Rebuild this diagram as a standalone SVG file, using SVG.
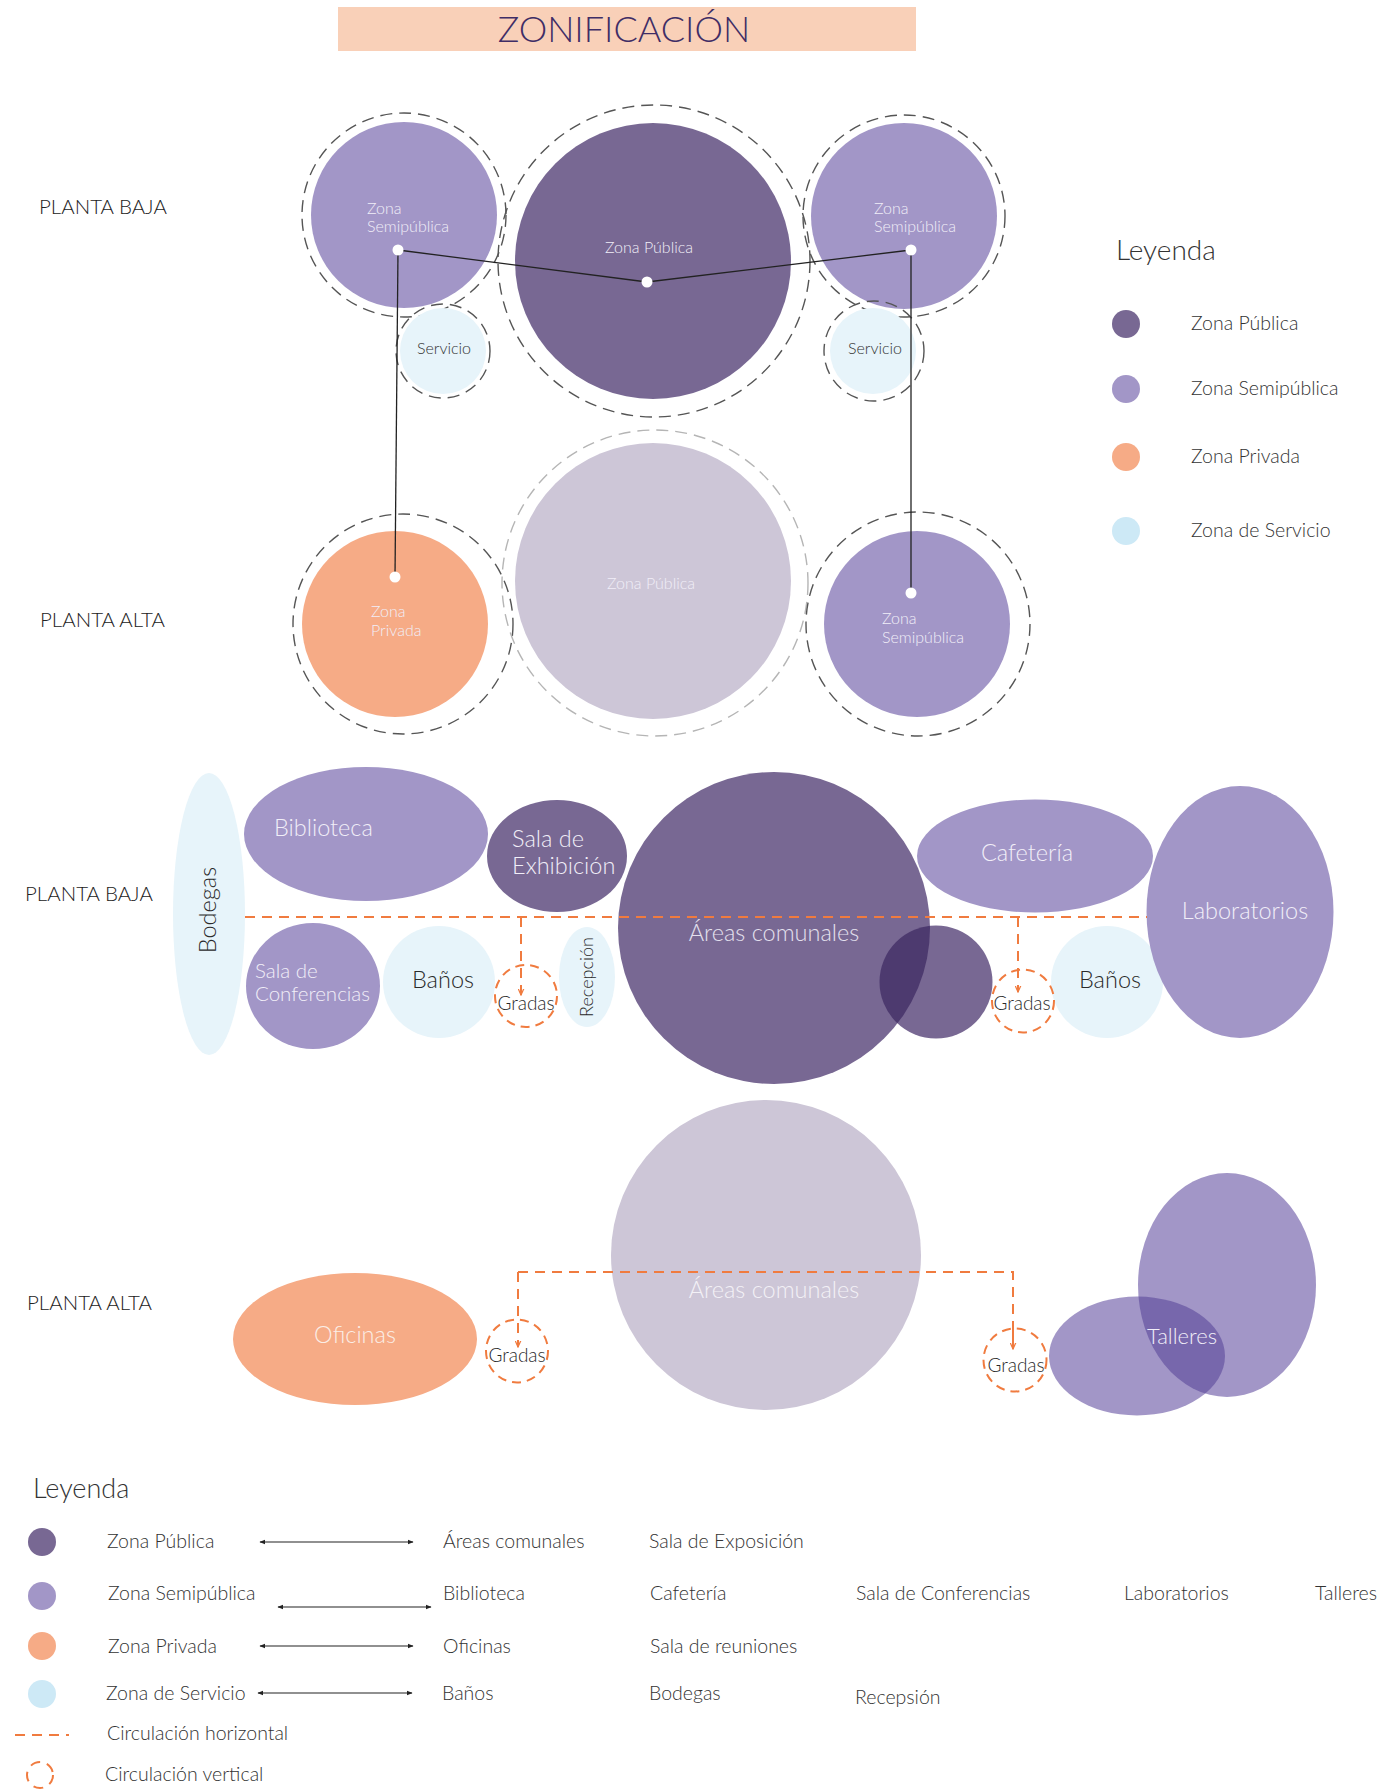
<svg xmlns="http://www.w3.org/2000/svg" width="1379" height="1791" viewBox="0 0 1379 1791">
<style>
text{font-family:Lato,"Liberation Sans","DejaVu Sans",sans-serif;font-weight:300}
.pub{fill:#786893}.semi{fill:#a296c7}.priv{fill:#f6ab86}.serv{fill:#e7f4fa}.pale{fill:#cdc6d7}
.ring{fill:none;stroke:#555;stroke-width:1.4;stroke-dasharray:12 7}
.ringl{fill:none;stroke:#b5b5b5;stroke-width:1.4;stroke-dasharray:12 7}
.grad{fill:none;stroke:#f07b3f;stroke-width:2;stroke-dasharray:9 6}
.circ{fill:none;stroke:#f07b3f;stroke-width:2;stroke-dasharray:10 7}
.link{fill:none;stroke:#222;stroke-width:1.3}
.dot{fill:#fff}
.lbl{font-size:20.5px;fill:#222}
.wt{fill:#f1eef8}
.wt15{font-size:16px;fill:#f1eef8}
.dk15{font-size:16px;fill:#333}
.big{font-size:23.5px}
.dk{fill:#2a2a2a}
.leg{font-size:19.5px;fill:#333}
.arr{stroke:#222;stroke-width:1.2;fill:none}
</style>
<defs>
<marker id="oa" viewBox="0 0 10 10" refX="9" refY="5" markerWidth="7" markerHeight="7" orient="auto" markerUnits="userSpaceOnUse"><path d="M0,1 L9,5 L0,9" fill="none" stroke="#f07b3f" stroke-width="1.8"/></marker>
<marker id="ba" viewBox="0 0 10 10" refX="9" refY="5" markerWidth="6" markerHeight="6" orient="auto-start-reverse" markerUnits="userSpaceOnUse"><path d="M0,1 L10,5 L0,9 z" fill="#222"/></marker>
<clipPath id="clipAreas"><circle cx="774" cy="928" r="156"/></clipPath>
<clipPath id="clipTall"><ellipse cx="1227" cy="1285" rx="89" ry="112"/></clipPath>
</defs>

<g id="title">
<rect x="338" y="7" width="578" height="44" fill="#f9d0b8"/>
<text x="624" y="42" text-anchor="middle" font-size="36" fill="#3f2d66">ZONIFICACIÓN</text>
</g>

<g id="row-labels">
<text class="lbl" x="39" y="214">PLANTA BAJA</text>
<text class="lbl" x="40" y="627">PLANTA ALTA</text>
<text class="lbl" x="25" y="901">PLANTA BAJA</text>
<text class="lbl" x="27" y="1310">PLANTA ALTA</text>
</g>

<!-- Top diagram: planta baja -->
<g id="pb-semi-left"><circle class="semi" cx="404" cy="215" r="93"/><circle class="ring" cx="404" cy="215" r="102"/>
<text class="wt15" x="367" y="214">Zona</text><text class="wt15" x="367" y="232">Semipública</text></g>
<g id="pb-publica"><circle class="pub" cx="653" cy="261" r="138"/><circle class="ring" cx="654" cy="261" r="156"/>
<text class="wt15" x="649" y="253" text-anchor="middle">Zona Pública</text></g>
<g id="pb-semi-right"><circle class="semi" cx="904" cy="216" r="93"/><circle class="ring" cx="904" cy="216" r="101"/>
<text class="wt15" x="874" y="214">Zona</text><text class="wt15" x="874" y="232">Semipública</text></g>
<g id="pb-serv-left"><circle class="serv" cx="443" cy="351" r="43"/><circle class="ring" cx="443" cy="351" r="47"/>
<text class="dk15" x="444" y="354" text-anchor="middle">Servicio</text></g>
<g id="pb-serv-right"><circle class="serv" cx="873" cy="351" r="43"/><circle class="ring" cx="874" cy="351" r="50"/>
<text class="dk15" x="875" y="354" text-anchor="middle">Servicio</text></g>

<!-- Top diagram: planta alta -->
<g id="pa-privada"><circle class="priv" cx="395" cy="624" r="93"/><circle class="ring" cx="403" cy="624" r="110"/>
<text class="wt15" x="371" y="617">Zona</text><text class="wt15" x="371" y="636">Privada</text></g>
<g id="pa-publica"><circle class="pale" cx="653" cy="581" r="138"/><circle class="ringl" cx="655" cy="583" r="153"/>
<text class="wt15" x="651" y="589" text-anchor="middle">Zona Pública</text></g>
<g id="pa-semi"><circle class="semi" cx="917" cy="624" r="93"/><circle class="ring" cx="918" cy="624" r="112"/>
<text class="wt15" x="882" y="624">Zona</text><text class="wt15" x="882" y="643">Semipública</text></g>

<g id="connectors-top">
<polyline class="link" points="398,250 647,282 911,250"/>
<line class="link" x1="398" y1="250" x2="395" y2="577"/>
<line class="link" x1="911" y1="250" x2="911" y2="593"/>
<circle class="dot" cx="398" cy="250" r="5.5"/>
<circle class="dot" cx="647" cy="282" r="5.5"/>
<circle class="dot" cx="911" cy="250" r="5.5"/>
<circle class="dot" cx="395" cy="577" r="5.5"/>
<circle class="dot" cx="911" cy="593" r="5.5"/>
</g>

<g id="legend-top">
<text x="1116" y="260" font-size="28" fill="#333">Leyenda</text>
<circle class="pub" cx="1126" cy="324" r="14"/><text class="leg" x="1191" y="330">Zona Pública</text>
<circle class="semi" cx="1126" cy="389" r="14"/><text class="leg" x="1191" y="395">Zona Semipública</text>
<circle class="priv" cx="1126" cy="457" r="14"/><text class="leg" x="1191" y="463">Zona Privada</text>
<circle fill="#cde9f6" cx="1126" cy="531" r="14"/><text class="leg" x="1191" y="537">Zona de Servicio</text>
</g>

<!-- Middle: planta baja -->
<g id="bodegas"><ellipse class="serv" cx="209" cy="914" rx="36" ry="141"/>
<text class="big dk" transform="translate(216,910) rotate(-90)" text-anchor="middle">Bodegas</text></g>
<g id="biblioteca"><ellipse class="semi" cx="366" cy="834" rx="122" ry="67"/>
<text class="big wt" x="274" y="836">Biblioteca</text></g>
<g id="sala-exhibicion"><ellipse class="pub" cx="557" cy="856" rx="70" ry="56"/>
<text class="big wt" x="512" y="847">Sala de</text><text class="big wt" x="512" y="874">Exhibición</text></g>
<g id="areas-comunales-pb"><circle class="pub" cx="774" cy="928" r="156"/>
<text class="big" fill="#e4e0ee" x="774" y="941" text-anchor="middle">Áreas comunales</text></g>
<g id="publica-aux"><circle class="pub" cx="936" cy="982" r="56.5"/>
<circle fill="#4d3a6f" cx="936" cy="982" r="56.5" clip-path="url(#clipAreas)"/></g>
<g id="cafeteria"><ellipse class="semi" cx="1035" cy="856" rx="118" ry="56.5"/>
<text class="big wt" x="1027" y="861" text-anchor="middle">Cafetería</text></g>
<g id="sala-conferencias"><ellipse class="semi" cx="313" cy="986" rx="67" ry="63"/>
<text font-size="20.5" class="wt" x="255" y="978">Sala de</text><text font-size="20.5" class="wt" x="255" y="1001">Conferencias</text></g>
<g id="banos-left"><circle class="serv" cx="439" cy="982" r="56"/>
<text class="big dk" x="443" y="988" text-anchor="middle">Baños</text></g>
<g id="recepcion"><ellipse class="serv" cx="587" cy="977" rx="28" ry="50"/>
<text font-size="18" class="dk" transform="translate(593,977) rotate(-90)" text-anchor="middle">Recepción</text></g>
<g id="banos-right"><circle class="serv" cx="1107" cy="982" r="56"/>
<text class="big dk" x="1110" y="988" text-anchor="middle">Baños</text></g>
<g id="laboratorios"><ellipse class="semi" cx="1240" cy="912" rx="93.5" ry="126"/>
<text class="big wt" x="1245" y="919" text-anchor="middle">Laboratorios</text></g>
<g id="gradas-pb-1"><circle class="grad" cx="526" cy="996" r="31"/>
<text font-size="19" class="dk" x="526" y="1010" text-anchor="middle">Gradas</text></g>
<g id="gradas-pb-2"><ellipse class="grad" cx="1023" cy="1001" rx="31" ry="31.5"/>
<text font-size="19" class="dk" x="1022" y="1010" text-anchor="middle">Gradas</text></g>

<!-- Bottom: planta alta -->
<g id="areas-comunales-pa"><circle class="pale" cx="766" cy="1255" r="155"/>
<text class="big" fill="#f3f1f6" x="774" y="1298" text-anchor="middle">Áreas comunales</text></g>
<g id="oficinas"><ellipse class="priv" cx="355" cy="1339" rx="122" ry="66"/>
<text class="big" fill="#fbeee6" x="355" y="1343" text-anchor="middle">Oficinas</text></g>
<g id="talleres"><ellipse class="semi" cx="1227" cy="1285" rx="89" ry="112"/>
<ellipse class="semi" cx="1137" cy="1356" rx="88" ry="59.5"/>
<ellipse fill="#7767ac" cx="1137" cy="1356" rx="88" ry="59.5" clip-path="url(#clipTall)"/>
<text font-size="22" class="wt" x="1182" y="1344" text-anchor="middle">Talleres</text></g>
<g id="gradas-pa-1"><ellipse class="grad" cx="517" cy="1351" rx="31" ry="31.5"/>
<text font-size="19" class="dk" x="517" y="1362" text-anchor="middle">Gradas</text></g>
<g id="gradas-pa-2"><ellipse class="grad" cx="1015" cy="1360" rx="31.5" ry="31.5"/>
<text font-size="19" class="dk" x="1016" y="1372" text-anchor="middle">Gradas</text></g>

<g id="connectors-circulation">
<line class="circ" x1="245" y1="917" x2="1147" y2="917"/>
<line class="circ" x1="521" y1="917" x2="521" y2="995" marker-end="url(#oa)"/>
<line class="circ" x1="1018" y1="917" x2="1018" y2="992" marker-end="url(#oa)"/>
<polyline class="circ" points="1013,1348 1013,1272 518,1272"/>
<line class="circ" x1="518" y1="1272" x2="518" y2="1347" marker-end="url(#oa)"/>
<line class="circ" x1="1013" y1="1330" x2="1013" y2="1349" marker-end="url(#oa)" stroke-dasharray="none"/>
</g>

<g id="legend-bottom">
<text x="33" y="1498" font-size="27" fill="#333">Leyenda</text>
<circle class="pub" cx="42" cy="1542" r="14"/>
<circle class="semi" cx="42" cy="1596" r="14"/>
<circle class="priv" cx="42" cy="1646" r="14"/>
<circle fill="#cde9f6" cx="42" cy="1694" r="14"/>
<text class="leg" x="107" y="1548">Zona Pública</text>
<text class="leg" x="108" y="1600">Zona Semipública</text>
<text class="leg" x="108" y="1653">Zona Privada</text>
<text class="leg" x="106" y="1700">Zona de Servicio</text>
<text class="leg" x="107" y="1740">Circulación horizontal</text>
<text class="leg" x="105" y="1781">Circulación vertical</text>
<line class="arr" x1="260" y1="1542" x2="413" y2="1542" marker-start="url(#ba)" marker-end="url(#ba)"/>
<line class="arr" x1="278" y1="1607" x2="431" y2="1607" marker-start="url(#ba)" marker-end="url(#ba)"/>
<line class="arr" x1="260" y1="1646" x2="413" y2="1646" marker-start="url(#ba)" marker-end="url(#ba)"/>
<line class="arr" x1="258" y1="1693" x2="412" y2="1693" marker-start="url(#ba)" marker-end="url(#ba)"/>
<text class="leg" x="443" y="1548">Áreas comunales</text>
<text class="leg" x="443" y="1600">Biblioteca</text>
<text class="leg" x="443" y="1653">Oficinas</text>
<text class="leg" x="442" y="1700">Baños</text>
<text class="leg" x="649" y="1548">Sala de Exposición</text>
<text class="leg" x="650" y="1600">Cafetería</text>
<text class="leg" x="650" y="1653">Sala de reuniones</text>
<text class="leg" x="649" y="1700">Bodegas</text>
<text class="leg" x="856" y="1600">Sala de Conferencias</text>
<text class="leg" x="855" y="1704">Recepsión</text>
<text class="leg" x="1124" y="1600">Laboratorios</text>
<text class="leg" x="1315" y="1600">Talleres</text>
<line class="circ" x1="15" y1="1735" x2="69" y2="1735" stroke-dasharray="9 8"/>
<circle class="circ" cx="40" cy="1775" r="13" stroke-dasharray="9 7"/>
</g>
</svg>
